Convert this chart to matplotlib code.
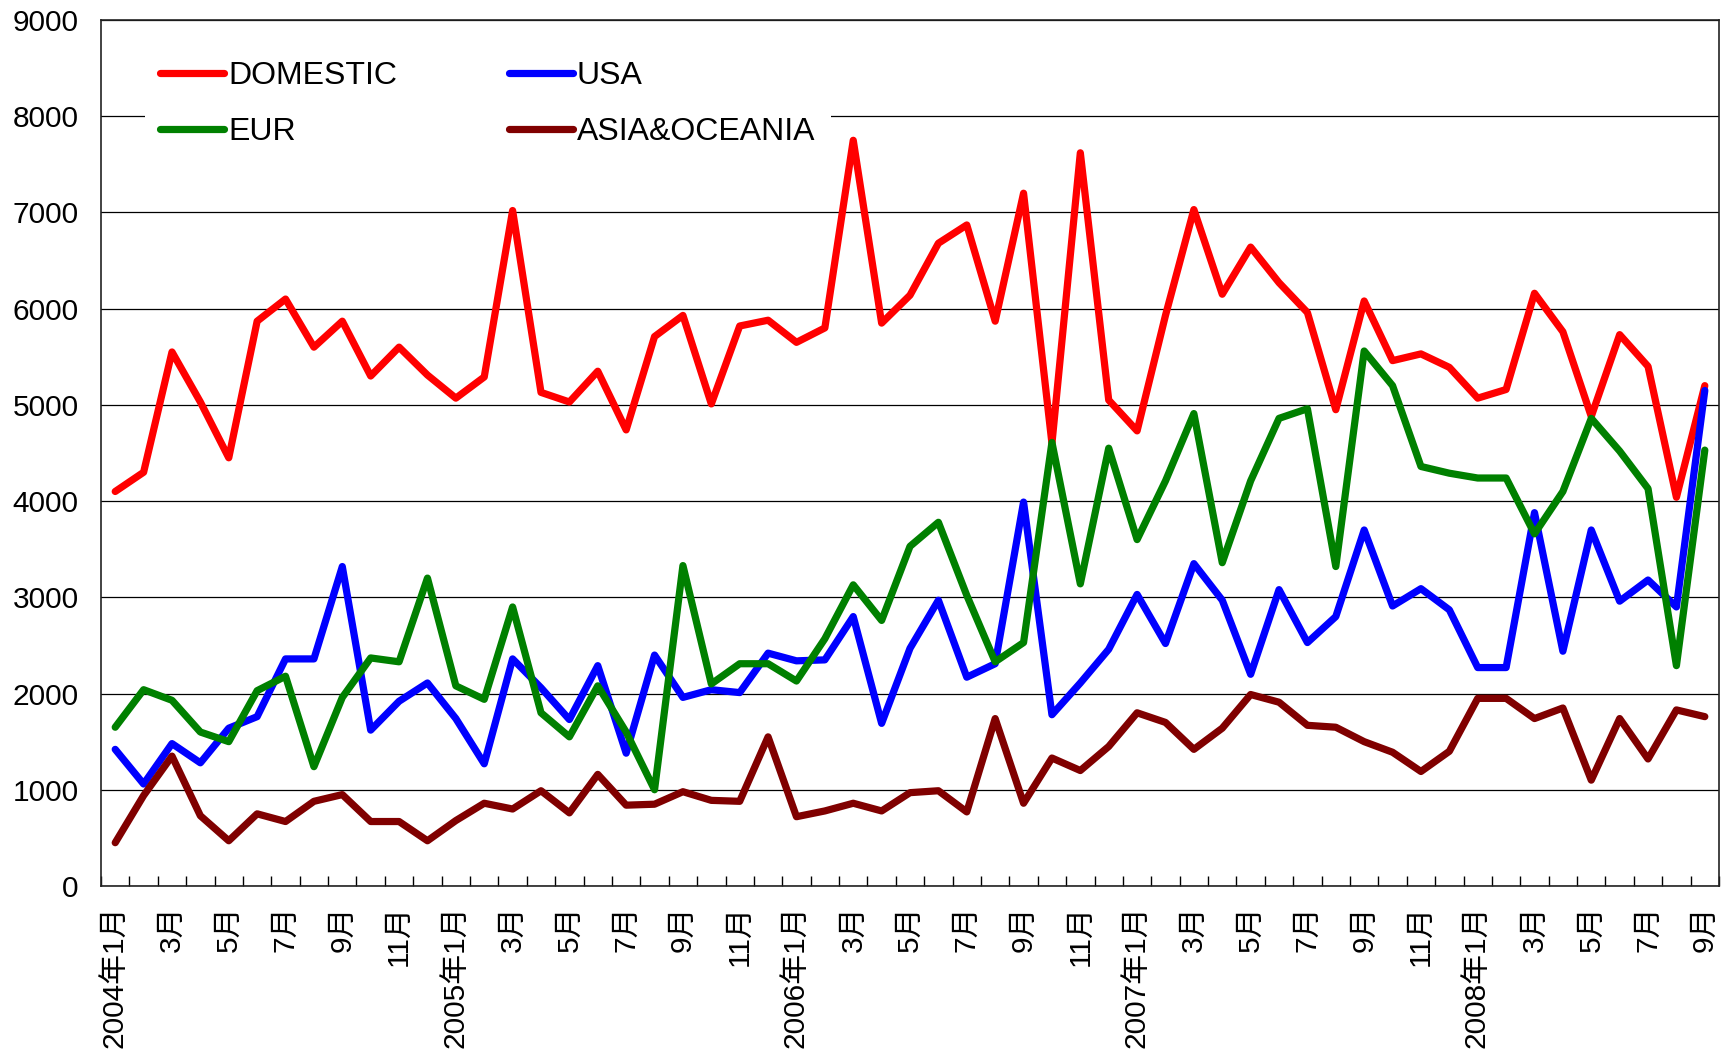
import matplotlib
matplotlib.use("Agg")
import matplotlib.pyplot as plt
from matplotlib.ticker import FixedLocator, MultipleLocator

plt.rcParams['font.family'] = ['Liberation Sans', 'Noto Sans CJK JP', 'DejaVu Sans']

# Monthly data, 2004-01 .. 2008-09 (57 months)
months = []
for y in range(2004, 2009):
    for m in range(1, 13):
        if y == 2008 and m > 9:
            break
        months.append((y, m))

domestic = [4100, 4300, 5550, 5030, 4450, 5870, 6100, 5600, 5870, 5300, 5600, 5310,
            5070, 5290, 7020, 5130, 5030, 5350, 4740, 5710, 5930, 5010, 5820, 5880,
            5650, 5800, 7750, 5850, 6140, 6680, 6870, 5870, 7200, 4600, 7620, 5050,
            4730, 5930, 7030, 6150, 6640, 6270, 5960, 4950, 6080, 5460, 5530, 5390,
            5070, 5160, 6160, 5760, 4880, 5730, 5400, 4040, 5200]
usa = [1420, 1060, 1480, 1280, 1640, 1760, 2360, 2360, 3320, 1620, 1920, 2110,
       1740, 1270, 2360, 2060, 1730, 2290, 1380, 2400, 1960, 2040, 2010, 2420,
       2340, 2350, 2800, 1690, 2470, 2970, 2170, 2310, 3990, 1780, 2110, 2460,
       3030, 2520, 3350, 2970, 2200, 3080, 2530, 2800, 3700, 2910, 3090, 2870,
       2270, 2270, 3880, 2440, 3700, 2960, 3180, 2900, 5150]
eur = [1650, 2040, 1930, 1600, 1500, 2030, 2180, 1240, 1960, 2370, 2330, 3200,
       2080, 1940, 2900, 1800, 1550, 2080, 1600, 1000, 3330, 2100, 2310, 2310,
       2130, 2570, 3130, 2760, 3530, 3780, 3020, 2330, 2530, 4610, 3140, 4550,
       3600, 4210, 4910, 3360, 4210, 4860, 4960, 3320, 5560, 5200, 4360, 4290,
       4240, 4240, 3660, 4100, 4860, 4520, 4130, 2290, 4530]
asia = [450, 940, 1350, 730, 470, 750, 670, 880, 950, 670, 670, 470,
        680, 860, 800, 990, 760, 1160, 840, 850, 980, 890, 880, 1550,
        720, 780, 860, 780, 970, 990, 770, 1740, 860, 1330, 1200, 1450,
        1800, 1700, 1420, 1640, 1990, 1910, 1670, 1650, 1500, 1390, 1190, 1400,
        1950, 1950, 1740, 1850, 1100, 1740, 1320, 1830, 1760]

series_names = ['DOMESTIC', 'USA', 'EUR', 'ASIA&OCEANIA']
series_colors = ['#FF0000', '#0000FF', '#008000', '#800000']

labels = []
for (y, m) in months:
    labels.append(f"{y}年{m}月" if m == 1 else f"{m}月")

fig = plt.figure(figsize=(17.24, 10.53), dpi=100)
ax = fig.add_axes([0.0586, 0.1586, 0.9385, 0.8224])

x = list(range(len(months)))
handles = []
for name, vals, col in zip(series_names, [domestic, usa, eur, asia], series_colors):
    h, = ax.plot(x, vals, color=col, lw=5.2, solid_joinstyle='round',
                 solid_capstyle='round', label=name, zorder=3)
    handles.append(h)

ax.set_xlim(-0.5, len(months) - 0.5)
ax.set_ylim(0, 9000)
ax.yaxis.set_major_locator(MultipleLocator(1000))
ax.grid(axis='y', color='black', lw=0.9, zorder=1)
ax.set_axisbelow(True)

major_pos = [i for i in x if i % 2 == 0]
ax.set_xticks(major_pos)
ax.set_xticklabels([labels[i] for i in major_pos], rotation=90, fontsize=21.5)
ax.xaxis.set_minor_locator(FixedLocator([i + 0.5 for i in range(-1, len(months))]))
ax.tick_params(axis='x', which='major', length=0, pad=14)
ax.tick_params(axis='x', which='minor', direction='in', length=7, width=1)
ax.tick_params(axis='y', which='major', length=0, pad=16, labelsize=21.5)

for s in ax.spines.values():
    s.set_linewidth(1.2)
    s.set_color('#222222')

order = [0, 2, 1, 3]
leg = ax.legend([handles[i] for i in order], [series_names[i] for i in order],
                ncol=2, loc='upper left', bbox_to_anchor=(0.017, 0.989),
                frameon=True, fontsize=23, handlelength=2.0, handletextpad=0.12,
                columnspacing=3.5, labelspacing=0.8, borderpad=0.5)
leg.get_frame().set_facecolor('white')
leg.get_frame().set_edgecolor('none')
leg.get_frame().set_alpha(1)

fig.savefig('out.png', dpi=100)
